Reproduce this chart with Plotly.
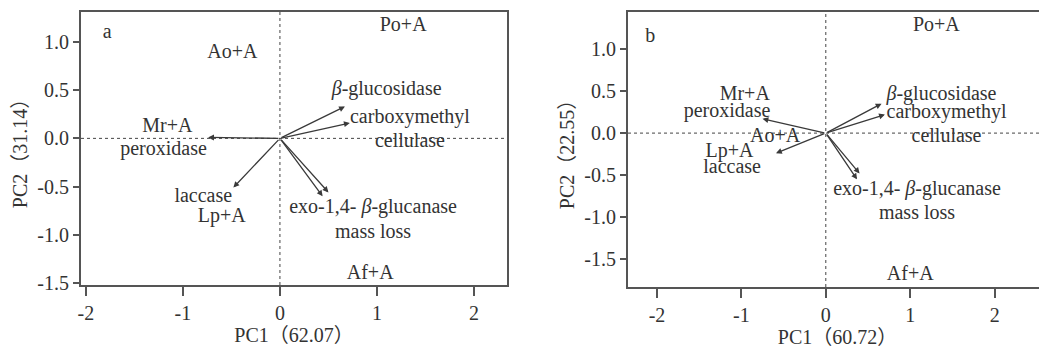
import plotly.graph_objects as go

# ---------------- data ----------------
enzymes_a = ["β-glucosidase", "carboxymethyl cellulase", "peroxidase", "laccase",
             "exo-1,4-β-glucanase", "mass loss"]
load_a_pc1 = [0.67, 0.72, -0.74, -0.48, 0.50, 0.44]
load_a_pc2 = [0.33, 0.16, 0.01, -0.51, -0.56, -0.60]

load_b_pc1 = [0.66, 0.70, -0.75, -0.59, 0.40, 0.37]
load_b_pc2 = [0.35, 0.22, 0.17, -0.24, -0.48, -0.55]

# label texts and where they sit on the PC plane
labels_a = ["a", "Ao+A", "Po+A", "<i>β</i>-glucosidase", "carboxymethyl", "cellulase",
            "Mr+A", "peroxidase", "laccase", "Lp+A", "exo-1,4- <i>β</i>-glucanase",
            "mass loss", "Af+A"]
lab_a_x = [-1.78, -0.49, 1.27, 1.10, 1.34, 1.34, -1.16, -1.20, -0.79, -0.60, 0.96, 0.96, 0.93]
lab_a_y = [1.09, 0.88, 1.16, 0.50, 0.21, -0.04, 0.12, -0.12, -0.61, -0.82, -0.72, -0.98, -1.41]

labels_b = ["b", "Po+A", "Mr+A", "peroxidase", "Ao+A", "Lp+A", "laccase",
            "<i>β</i>-glucosidase", "carboxymethyl", "cellulase",
            "exo-1,4- <i>β</i>-glucanase", "mass loss", "Af+A"]
lab_b_x = [-2.08, 1.31, -0.96, -1.17, -0.60, -1.14, -1.11, 1.37, 1.43, 1.43, 1.08, 1.08, 1.00]
lab_b_y = [1.14, 1.27, 0.45, 0.25, -0.05, -0.23, -0.42, 0.45, 0.24, -0.05, -0.68, -0.96, -1.69]

x_title_a = "PC1（62.07）"
y_title_a = "PC2（31.14）"
x_title_b = "PC1（60.72）"
y_title_b = "PC2（22.55）"

x_ticks = [-2, -1, 0, 1, 2]
x_tick_labels = ["-2", "-1", "0", "1", "2"]
y_ticks = [-1.5, -1.0, -0.5, 0.0, 0.5, 1.0]
y_tick_labels = ["-1.5", "-1.0", "-0.5", "0.0", "0.5", "1.0"]

# ---------------- figure ----------------
FONT = "Liberation Serif, Times New Roman, Noto Sans CJK SC, serif"
TXT = "#333333"
ARR = "#3a3a3a"
LINE = "#555555"
FS = 20

# the page body has an 8px margin; size the figure so it fills the window
OFF = 8
W, H = 1047 - OFF, 349 - OFF


def fx(px):
    return (px - OFF) / W


def fy(py):
    return 1 - (py - OFF) / H


fig = go.Figure()

fig.add_trace(go.Scatter(x=lab_a_x, y=lab_a_y, text=labels_a, mode="text",
                         textposition="middle center",
                         textfont=dict(family=FONT, size=FS, color=TXT),
                         xaxis="x", yaxis="y", showlegend=False, hoverinfo="skip",
                         cliponaxis=False))
fig.add_trace(go.Scatter(x=lab_b_x, y=lab_b_y, text=labels_b, mode="text",
                         textposition="middle center",
                         textfont=dict(family=FONT, size=FS, color=TXT),
                         xaxis="x2", yaxis="y2", showlegend=False, hoverinfo="skip",
                         cliponaxis=False))

annotations = []
for px, py in zip(load_a_pc1, load_a_pc2):
    annotations.append(dict(x=px, y=py, ax=0, ay=0, xref="x", yref="y",
                            axref="x", ayref="y", showarrow=True, text="",
                            arrowhead=2, arrowsize=0.9, arrowwidth=1.3,
                            arrowcolor=ARR, standoff=0))
for px, py in zip(load_b_pc1, load_b_pc2):
    annotations.append(dict(x=px, y=py, ax=0, ay=0, xref="x2", yref="y2",
                            axref="x2", ayref="y2", showarrow=True, text="",
                            arrowhead=2, arrowsize=0.9, arrowwidth=1.3,
                            arrowcolor=ARR, standoff=0))

shapes = []
for xr, yr in (("x", "y"), ("x2", "y2")):
    shapes.append(dict(type="line", xref=xr, yref=yr + " domain", x0=0, x1=0, y0=0, y1=1,
                       line=dict(color="#444444", width=1, dash="dot"), layer="below"))
    shapes.append(dict(type="line", xref=xr + " domain", yref=yr, x0=0, x1=1, y0=0, y1=0,
                       line=dict(color="#444444", width=1, dash="dot"), layer="below"))

axis_common = dict(showgrid=False, zeroline=False, showline=True, linecolor=LINE,
                   linewidth=2, ticks="outside", tickwidth=1.5,
                   tickcolor=LINE, automargin=False,
                   tickfont=dict(family=FONT, size=FS, color=TXT))
title_font = dict(family=FONT, size=FS, color=TXT)

fig.update_layout(
    width=W, height=H,
    margin=dict(l=0, r=0, t=0, b=0),
    paper_bgcolor="white", plot_bgcolor="white",
    showlegend=False,
    annotations=annotations,
    shapes=shapes,
    xaxis=dict(domain=[fx(81), fx(507)], range=[-2.05, 2.34], anchor="y",
               tickvals=x_ticks, ticktext=x_tick_labels, mirror=True, ticklen=9,
               title=dict(text=x_title_a, font=title_font, standoff=4),
               **axis_common),
    yaxis=dict(domain=[fy(285), fy(12)], range=[-1.52, 1.31], anchor="x",
               tickvals=y_ticks, ticktext=y_tick_labels, mirror=True, ticklen=6,
               title=dict(text=y_title_a, font=title_font, standoff=4),
               **axis_common),
    xaxis2=dict(domain=[fx(628), 1.0], range=[-2.343, 2.62], anchor="y2",
                tickvals=x_ticks, ticktext=x_tick_labels, mirror=True, ticklen=9,
                title=dict(text=x_title_b, font=title_font, standoff=4),
                **axis_common),
    yaxis2=dict(domain=[fy(287), fy(12)], range=[-1.83, 1.44], anchor="x2",
                tickvals=y_ticks, ticktext=y_tick_labels, mirror=False, ticklen=6,
                title=dict(text=y_title_b, font=title_font, standoff=4),
                **axis_common),
)

fig.write_html("out.html")
